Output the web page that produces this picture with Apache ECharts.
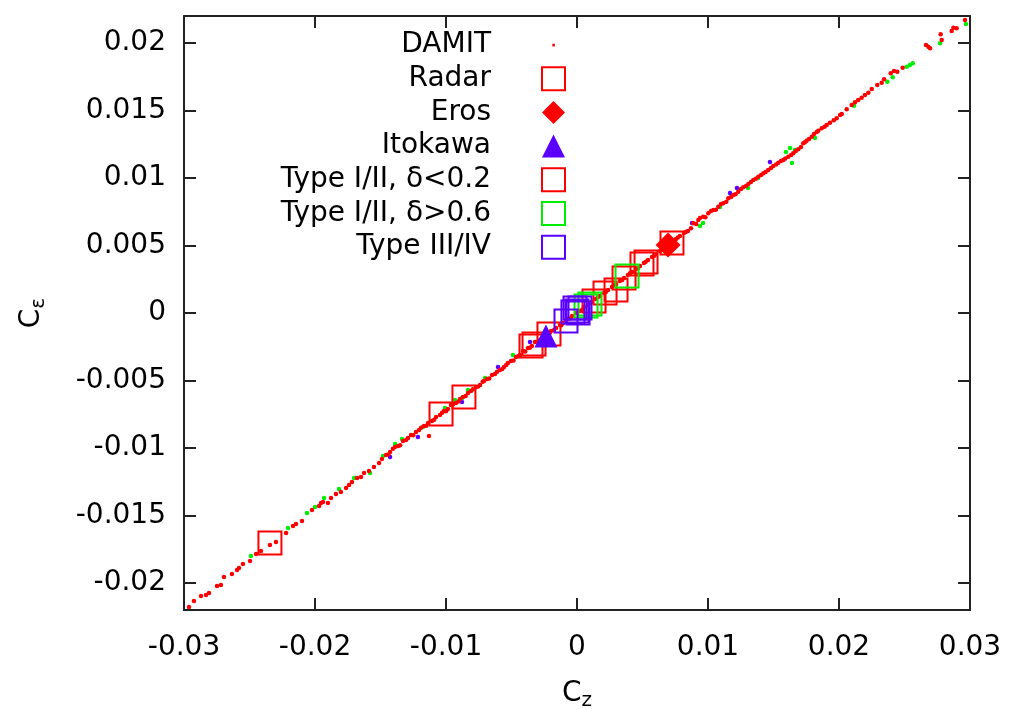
<!DOCTYPE html>
<html><head><meta charset="utf-8">
<script src="https://cdn.jsdelivr.net/npm/echarts@6/dist/echarts.min.js"></script>
<style>html,body{margin:0;padding:0;background:#fff}#c{width:1009px;height:709px}</style>
</head><body><div id="c"></div>
<script>
const xTicks = [-0.03, -0.02, -0.01, 0, 0.01, 0.02, 0.03];
const yTicks = [-0.02, -0.015, -0.01, -0.005, 0, 0.005, 0.01, 0.015, 0.02];

const legendNames = ['DAMIT', 'Radar', 'Eros', 'Itokawa', 'Type I/II, δ<0.2', 'Type I/II, δ>0.6', 'Type III/IV'];

// DAMIT small points (red)
const damit = [
  [-0.02962,-0.02178],[-0.02924,-0.02133],[-0.02870,-0.02096],[-0.02832,-0.02089],[-0.02809,-0.02074],
  [-0.02748,-0.02022],[-0.02718,-0.02015],[-0.02695,-0.01956],[-0.02634,-0.01933],[-0.02595,-0.01904],
  [-0.02580,-0.01889],[-0.02550,-0.01859],[-0.02496,-0.01837],[-0.02450,-0.01785],[-0.02412,-0.01763],
  [-0.02344,-0.01719],[-0.02298,-0.01696],[-0.02221,-0.01630],[-0.02168,-0.01578],[-0.02145,-0.01563],
  [-0.02099,-0.01541],[-0.02023,-0.01459],[-0.01969,-0.01430],[-0.01954,-0.01407],[-0.01939,-0.01400],
  [-0.01901,-0.01407],[-0.01878,-0.01370],[-0.01840,-0.01341],[-0.01802,-0.01326],[-0.01763,-0.01296],
  [-0.01740,-0.01274],[-0.01718,-0.01252],[-0.01679,-0.01222],[-0.01649,-0.01215],[-0.01626,-0.01185],
  [-0.01588,-0.01170],[-0.01550,-0.01141],[-0.01511,-0.01111],[-0.01489,-0.01081],
  [-0.01458,-0.01052],[-0.01427,-0.01030],[-0.01389,-0.00993],[-0.01366,-0.00985],[-0.01328,-0.00948],
  [-0.01305,-0.00941],[-0.01267,-0.00904],[-0.01229,-0.00881],[-0.01206,-0.00867],[-0.01168,-0.00837],
  [-0.01130,-0.00911],[-0.01137,-0.00815],[-0.01107,-0.00800],[-0.01076,-0.00770],[-0.01046,-0.00756],
  [-0.01015,-0.00726],[-0.00985,-0.00711],[-0.00962,-0.00681],[-0.00924,-0.00667],[-0.00893,-0.00637],
  [-0.00870,-0.00622],[-0.00832,-0.00593],[-0.00809,-0.00578],[-0.00771,-0.00548],[-0.00740,-0.00533],
  [-0.00710,-0.00504],[-0.00687,-0.00489],[-0.00649,-0.00459],[-0.00626,-0.00452],[-0.00588,-0.00422],
  [-0.00557,-0.00400],[-0.00527,-0.00370],[-0.00504,-0.00356],[-0.00466,-0.00326],[-0.00435,-0.00311],
  [-0.00412,-0.00281],[-0.00374,-0.00259],[-0.00344,-0.00244],[-0.00321,-0.00215],[-0.00282,-0.00200],
  [-0.00252,-0.00170],[-0.00221,-0.00156],[-0.00198,-0.00133],[-0.00160,-0.00111],[-0.00130,-0.00089],
  [-0.00107,-0.00074],[-0.00069,-0.00044],[-0.00038,-0.00022],[-0.00008,0.00000],[0.00023,0.00015],
  [0.00053,0.00044],[0.00084,0.00059],[0.00115,0.00081],[0.00145,0.00104],[0.00176,0.00126],
  [0.00206,0.00148],[0.00237,0.00170],[0.00267,0.00193],[0.00298,0.00215],[0.00328,0.00237],
  [0.00359,0.00259],[0.00389,0.00281],[0.00420,0.00304],[0.00450,0.00326],[0.00481,0.00348],
  [0.00511,0.00370],[0.00542,0.00393],[0.00573,0.00415],[0.00603,0.00437],[0.00634,0.00459],
  [0.00664,0.00481],[0.00695,0.00504],[0.00725,0.00526],[0.00756,0.00548],[0.00786,0.00570],
  [0.00817,0.00593],[0.00847,0.00607],
  [0.00888,0.00664],[0.00926,0.00689],[0.00964,0.00713],[0.01002,0.00738],[0.01040,0.00763],
  [0.01079,0.00787],[0.01117,0.00813],[0.01155,0.00850],[0.01193,0.00874],[0.01231,0.00899],
  [0.01269,0.00931],[0.01308,0.00956],[0.01346,0.00985],[0.01384,0.01010],[0.01422,0.01035],
  [0.01460,0.01059],[0.01498,0.01089],[0.01537,0.01113],[0.01575,0.01133],[0.01613,0.01158],
  [0.01651,0.01183],[0.01689,0.01213],[0.01727,0.01257],[0.01753,0.01276],[0.01792,0.01306],
  [0.01809,0.01326],[0.01842,0.01350],[0.01868,0.01368],[0.01906,0.01393],[0.01931,0.01410],
  [0.01982,0.01442],[0.02008,0.01467],
  [0.00939,0.00704],[0.01023,0.00756],[0.01099,0.00807],[0.01176,0.00859],[0.01252,0.00919],
  [0.01328,0.00970],[0.01405,0.01022],[0.01481,0.01074],[0.01557,0.01126],[0.01634,0.01170],
  [0.01710,0.01230],[0.01771,0.01289],
  [0.02021,0.01474],[0.02059,0.01509],[0.02097,0.01541],[0.02122,0.01561],[0.02147,0.01578],
  [0.02173,0.01595],[0.02198,0.01615],[0.02224,0.01632],[0.02250,0.01659],[0.02292,0.01689],
  [0.02326,0.01706],[0.02344,0.01731],[0.02395,0.01776],[0.02420,0.01793],[0.02445,0.01787],
  [0.02486,0.01817],[0.02682,0.01973],[0.02695,0.01961],[0.02664,0.01985],[0.02776,0.02064],
  [0.02784,0.02022],[0.02860,0.02089],[0.02873,0.02113],[0.02898,0.02109],[0.02962,0.02170],
  [-0.01440,-0.01048],[-0.01405,-0.01005],[-0.01350,-0.00980],[-0.01290,-0.00925],[-0.01250,-0.00905],
  [-0.01190,-0.00850],[-0.01150,-0.00835],[-0.01090,-0.00790],[-0.01030,-0.00738],[-0.01000,-0.00728],
  [-0.00945,-0.00675],[-0.00905,-0.00655],[-0.00850,-0.00615],[-0.00795,-0.00565],[-0.00755,-0.00545],
  [-0.00720,-0.00510],[-0.00670,-0.00485],[-0.00610,-0.00435],[-0.00570,-0.00415],[-0.00540,-0.00385],
  [-0.00485,-0.00352],[-0.00450,-0.00320],[-0.00395,-0.00285],[-0.00360,-0.00258],[-0.00305,-0.00215],
  [-0.00265,-0.00192],[-0.00210,-0.00150],[-0.00175,-0.00125],[-0.00120,-0.00090],[-0.00085,-0.00058],
  [-0.00050,-0.00038],[0.00040,0.00025],[0.00100,0.00075],[0.00160,0.00118],[0.00220,0.00155],
  [0.00280,0.00205],[0.00345,0.00245],[0.00405,0.00295],[0.00465,0.00332],[0.00525,0.00380],
  [0.00590,0.00425],[0.00650,0.00468],[0.00710,0.00515],[0.00770,0.00560],[0.00830,0.00600],
  [0.00870,0.00628],[0.00910,0.00660],[0.00980,0.00710],[0.01060,0.00765],[0.01140,0.00825],
  [0.01210,0.00880],[0.01290,0.00940],[0.01365,0.00995],[0.01440,0.01045],[0.01520,0.01100],
  [0.01590,0.01145],[0.01670,0.01200],[0.01740,0.01265],[0.01830,0.01340],[0.01890,0.01380],
  [0.01960,0.01428]
];

// small green points (Type I/II, δ>0.6 objects, small markers)
const greenDots = [
  [-0.02489,-0.01800],[-0.02206,-0.01593],[-0.02061,-0.01481],[-0.02000,-0.01437],[-0.01931,-0.01370],
  [-0.01817,-0.01304],[-0.01702,-0.01222],[-0.01580,-0.01185],[-0.01481,-0.01059],
  [-0.01389,-0.00970],[-0.01336,-0.00933],[-0.01176,-0.00844],[-0.01008,-0.00704],[-0.00931,-0.00644],
  [-0.00878,-0.00630],[-0.00832,-0.00570],[-0.00702,-0.00481],[-0.00489,-0.00311],
  [0.00939,0.00644],[0.00962,0.00667],[0.01092,0.00785],[0.01305,0.00926],[0.01382,0.01000],
  [0.01595,0.01193],[0.01626,0.01222],[0.01641,0.01111],[0.01664,0.01207],[0.01817,0.01296],
  [0.02115,0.01536],[0.02369,0.01713],[0.02410,0.01746],[0.02517,0.01824],[0.02542,0.01837],
  [0.02563,0.01850],[0.02771,0.01998],[0.02969,0.02141]
];

// small purple points (Type III/IV objects, small markers)
const purpleDots = [
  [-0.01427,-0.01067],[-0.01214,-0.00919],[-0.00878,-0.00659],[-0.00603,-0.00400],[-0.00359,-0.00215],
  [0.00878,0.00667],[0.01168,0.00889],[0.01221,0.00926],[0.01473,0.01119]
];

const radar = [
  [-0.02344,-0.01704],[-0.01038,-0.00748],[-0.00863,-0.00622],[-0.00351,-0.00244],
  [-0.00214,-0.00156],[0.00725,0.00519],[0.00496,0.00363]
];
const eros = [[0.00695,0.00504]];
const itokawa = [[-0.00237,-0.00170]];
const typeLow = [
  [-0.00328,-0.00230],[0.00130,0.00089],[0.00214,0.00148],[0.00298,0.00170],
  [0.00359,0.00259],[0.00527,0.00378]
];
const typeHigh = [[0.00382,0.00274],[0.00099,0.00067],[0.00069,0.00052]];
const typeIII = [
  [-0.00015,0.00037],[0.00000,0.00015],[0.00023,0.00037],[-0.00031,0.00007],
  [0.00008,0.00000],[-0.00084,-0.00059]
];

const RED = '#ff0000', GREEN = '#00ee00', PURPLE = '#5a00ff';
const FONT = 'DejaVu Sans';
const AX = '#222';
const FS = 28;

const chart = echarts.init(document.getElementById('c'), null, {renderer: 'canvas'});

function baseAxis(extra) {
  return Object.assign({
    type: 'value',
    axisLine: {show: true, onZero: false, lineStyle: {color: AX, width: 2}},
    splitLine: {show: false},
  }, extra);
}
function ticks(vals) {
  return {show: true, inside: true, length: 12, lineStyle: {color: AX, width: 2}, customValues: vals};
}

function emptySquare(name, data, color) {
  return {
    type: 'scatter', name: name, data: data, symbol: 'rect', symbolSize: 23,
    itemStyle: {color: 'rgba(255,255,255,0)', borderColor: color, borderWidth: 2, opacity: 1},
    z: 5
  };
}

chart.setOption({
  animation: false,
  backgroundColor: '#fff',
  textStyle: {fontFamily: FONT},
  grid: {left: 184, right: 39, top: 16, bottom: 99, containLabel: false, outerBoundsMode: 'none'},
  xAxis: [
    baseAxis({
      min: -0.03, max: 0.03, position: 'bottom',
      axisTick: ticks(xTicks),
      axisLabel: {show: true, customValues: xTicks, fontSize: FS, color: '#000', fontFamily: FONT, margin: 24},
      name: '{c|C}{s|z}', nameLocation: 'middle', nameGap: 67,
      nameTextStyle: {rich: {
        c: {fontSize: FS, color: '#000', fontFamily: FONT},
        s: {fontSize: 20, color: '#000', fontFamily: FONT, padding: [14, 0, 0, 0]}
      }}
    }),
    baseAxis({
      min: -0.03, max: 0.03, position: 'top',
      axisTick: ticks(xTicks),
      axisLabel: {show: false}
    })
  ],
  yAxis: [
    baseAxis({
      min: -0.022, max: 0.022, position: 'left',
      axisTick: ticks(yTicks),
      axisLabel: {show: true, customValues: yTicks, fontSize: FS, color: '#000', fontFamily: FONT, margin: 18},
      name: '{c|C}{s|ε}', nameLocation: 'middle', nameGap: 135,
      nameTextStyle: {rich: {
        c: {fontSize: FS, color: '#000', fontFamily: FONT},
        s: {fontSize: 20, color: '#000', fontFamily: FONT, padding: [14, 0, 0, 0]}
      }}
    }),
    baseAxis({
      min: -0.022, max: 0.022, position: 'right',
      axisTick: ticks(yTicks),
      axisLabel: {show: false}
    })
  ],
  legend: {
    orient: 'vertical', align: 'right', right: 443, top: 31, padding: 0,
    itemWidth: 23, itemHeight: 23, itemGap: 33.7 - FS,
    textStyle: {fontSize: FS, color: '#000', fontFamily: FONT, padding: [0, 46, 0, 0]},
    data: [
      {name: legendNames[0], icon: 'path://M0 0M23 23M10.3 10.3h2.6v2.6h-2.6z'},
      legendNames[1], legendNames[2], legendNames[3], legendNames[4], legendNames[5], legendNames[6]
    ]
  },
  series: [
    {type: 'scatter', name: 'δ>0.6 small', data: greenDots, symbol: 'circle', symbolSize: 4.5,
     itemStyle: {color: GREEN, opacity: 1}, z: 2},
    {type: 'scatter', name: 'III/IV small', data: purpleDots, symbol: 'circle', symbolSize: 4.5,
     itemStyle: {color: PURPLE, opacity: 1}, z: 2},
    {type: 'scatter', name: legendNames[0], data: damit, symbol: 'circle', symbolSize: 4.5,
     itemStyle: {color: RED, opacity: 1}, z: 3},
    emptySquare(legendNames[1], radar, RED),
    {type: 'scatter', name: legendNames[2], data: eros, symbol: 'diamond', symbolSize: 25,
     itemStyle: {color: RED, opacity: 1}, z: 6},
    {type: 'scatter', name: legendNames[3], data: itokawa, symbol: 'triangle', symbolSize: 23,
     itemStyle: {color: PURPLE, opacity: 1}, z: 6},
    emptySquare(legendNames[4], typeLow, RED),
    emptySquare(legendNames[5], typeHigh, GREEN),
    emptySquare(legendNames[6], typeIII, PURPLE)
  ]
});
</script>
</body></html>
